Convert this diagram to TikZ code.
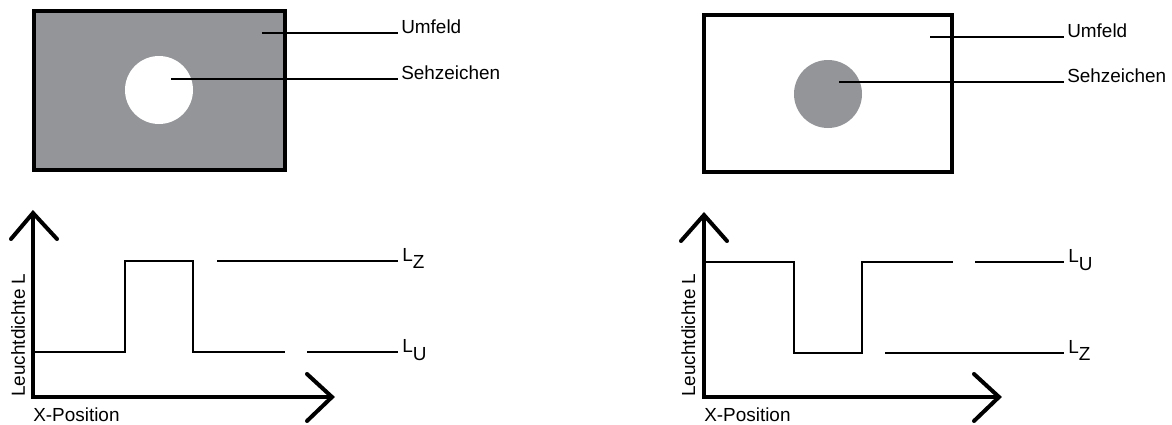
\documentclass[tikz,border=0pt]{standalone}
\usepackage{fontspec}
\setmainfont{Liberation Sans}
\definecolor{fieldgray}{RGB}{147,149,152}
\begin{document}
\begin{tikzpicture}[x=0.75pt,y=-0.75pt,
  frame/.style={line width=3pt},
  axis/.style={line width=2.8pt, line join=miter},
  chev/.style={line width=3pt, line cap=round, line join=miter},
  signal/.style={line width=1.3pt},
  leader/.style={line width=0.9pt},
  lbl/.style={anchor=base west, inner sep=0pt, font=\fontsize{14.2pt}{17pt}\selectfont}]
\useasboundingbox (0,0) rectangle (1172,425);

% ---------- left panel (top) ----------
\fill[fieldgray] (34,11) rectangle (285,170);
\draw[frame] (34,11) rectangle (285,170);
\fill[white] (159,90) circle[radius=34];
\coordinate (lUp) at (262,33);
\coordinate (lSp) at (171,79);
\node[lbl] (lUmf) at (401,33) {Umfeld};
\node[lbl] (lSeh) at (401,79) {Sehzeichen};
\draw[leader] (lUp) -- ([xshift=-2.2pt]lUmf.base west);
\draw[leader] (lSp) -- ([xshift=-2.2pt]lSeh.base west);

% ---------- right panel (top) ----------
\draw[frame] (704,15) rectangle (952,172);
\fill[fieldgray] (828,94) circle[radius=34];
\coordinate (rUp) at (930,37);
\coordinate (rSp) at (839,82);
\node[lbl] (rUmf) at (1067,37) {Umfeld};
\node[lbl] (rSeh) at (1067,82) {Sehzeichen};
\draw[leader] (rUp) -- ([xshift=-2.2pt]rUmf.base west);
\draw[leader] (rSp) -- ([xshift=-2.2pt]rSeh.base west);

% ---------- left plot ----------
\coordinate (lYt) at (33,213);
\coordinate (lO) at (33,397);
\coordinate (lXt) at (332,397);
\draw[axis] (lYt) -- (lO) -- (lXt);
\draw[chev] (11,239) -- (lYt) -- (57,239);
\draw[chev] (307,374) -- (lXt) -- (307,421);
\node[lbl] (lXlab) at (33,421) {X-Position};
\node[lbl, rotate=90] (lYlab) at (25,397) {Leuchtdichte L};
\draw[signal] (33,352) -- (125,352) -- (125,261) -- (193,261) -- (193,352) -- (285,352);
\coordinate (lLZs) at (217,261);
\coordinate (lLUs) at (307,352);
\node[lbl] (lLZ) at (402,261) {L\raisebox{-5.5pt}{Z}};
\node[lbl] (lLU) at (402,352) {L\raisebox{-6pt}{U}};
\draw[leader] (lLZs) -- ([xshift=-3pt]lLZ.base west);
\draw[leader] (lLUs) -- ([xshift=-3pt]lLU.base west);

% ---------- right plot ----------
\coordinate (rYt) at (704,215);
\coordinate (rO) at (704,397);
\coordinate (rXt) at (999,397);
\draw[axis] (rYt) -- (rO) -- (rXt);
\draw[chev] (681,241) -- (rYt) -- (727,241);
\draw[chev] (974,374) -- (rXt) -- (974,421);
\node[lbl] (rXlab) at (704,421) {X-Position};
\node[lbl, rotate=90] (rYlab) at (695,397) {Leuchtdichte L};
\draw[signal] (704,262) -- (794,262) -- (794,353) -- (862,353) -- (862,262) -- (953,262);
\coordinate (rLUs) at (975,262);
\coordinate (rLZs) at (885,353);
\node[lbl] (rLU) at (1068,262) {L\raisebox{-6pt}{U}};
\node[lbl] (rLZ) at (1068,353) {L\raisebox{-5.5pt}{Z}};
\draw[leader] (rLUs) -- ([xshift=-3pt]rLU.base west);
\draw[leader] (rLZs) -- ([xshift=-3pt]rLZ.base west);
\end{tikzpicture}
\end{document}
